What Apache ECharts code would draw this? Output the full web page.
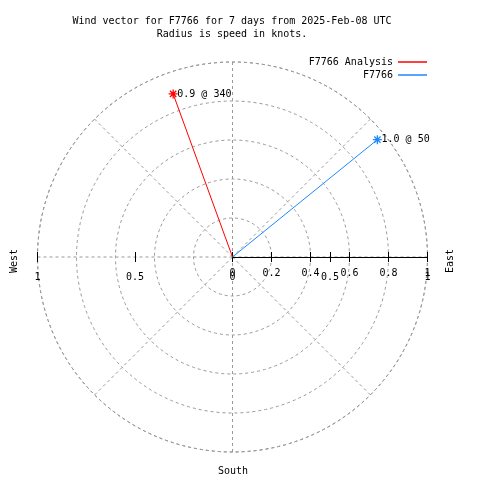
<!DOCTYPE html>
<html><head><meta charset="utf-8">
<script src="https://cdn.jsdelivr.net/npm/echarts@6/dist/echarts.min.js"></script>
<style>html,body{margin:0;padding:0;background:#fff}#c{width:480px;height:480px}</style>
</head><body><div id="c"></div>
<script>
const seriesNames = ['F7766 Analysis', 'F7766'];
const speeds = [0.89, 0.956];
const directions = [340, 51];
const pointLabels = ['0.9 @ 340', '1.0 @ 50'];
const colors = ['#ff0000', '#1e88ff'];
const xTickLabels = ['1', '0.5', '0', '0.5', '1'];
const titleText = 'Wind vector for F7766 for 7 days from 2025-Feb-08 UTC\nRadius is speed in knots.';

const FONT = 'DejaVu Sans Mono';
const CX = 232.5, CY = 257, R = 195;
const dash = { color: '#999999', type: [3, 3], width: 1 };
const star = 'path://M5,0 L5,10 M0,5 L10,5 M1.5,1.5 L8.5,8.5 M8.5,1.5 L1.5,8.5';

const chart = echarts.init(document.getElementById('c'));
const series = seriesNames.map((name, i) => ({
  name: name,
  type: 'line',
  coordinateSystem: 'polar',
  polarIndex: 0,
  color: colors[i],
  lineStyle: { color: colors[i], width: 1 },
  symbol: 'none',
  animation: false,
  data: [
    { value: [0, directions[i]], symbol: 'none' },
    {
      value: [speeds[i], directions[i]],
      symbol: star, symbolSize: 9,
      itemStyle: { color: colors[i], borderColor: colors[i], borderWidth: 1.3 },
      label: { show: true, position: 'right', distance: -1, color: '#000',
        fontFamily: FONT, fontSize: 10, formatter: pointLabels[i] }
    }
  ],
  z: 5
}));

const gridBottom = 480 - CY;
function xAx(gridIndex, min, max, interval, showLabel, inside, showLine, labels) {
  return {
    type: 'value', gridIndex: gridIndex, min: min, max: max, interval: interval,
    position: 'bottom',
    axisLine: { show: showLine, lineStyle: { color: '#000', width: 1 } },
    axisTick: { show: true, inside: inside, length: 5, lineStyle: { color: '#000' } },
    splitLine: { show: false },
    axisLabel: {
      show: showLabel, interval: 0, margin: labels ? 15 : 11, color: '#000',
      fontFamily: FONT, fontSize: 10, showMinLabel: true, showMaxLabel: true,
      formatter: labels ? (v) => labels[Math.round((v - min) / interval)] : undefined
    }
  };
}

chart.setOption({
  backgroundColor: '#fff',
  animation: false,
  title: {
    text: titleText, left: 227, top: 10, textAlign: 'center',
    textStyle: { fontFamily: FONT, fontSize: 10, fontWeight: 'normal', color: '#000', lineHeight: 13 }
  },
  legend: seriesNames.map((n, i) => ({
    data: [n], right: 53, top: 57 + i * 13, align: 'right', orient: 'horizontal',
    icon: 'rect', itemWidth: 29, itemHeight: 1.5, padding: 0,
    textStyle: { fontFamily: FONT, fontSize: 10, color: '#000' },
    selectedMode: false
  })),
  polar: [{ center: [CX, CY], radius: R }],
  angleAxis: {
    polarIndex: 0, type: 'value', min: 0, max: 360, interval: 45,
    startAngle: 90, clockwise: true,
    axisLine: { show: true, lineStyle: dash },
    axisTick: { show: false }, axisLabel: { show: false },
    splitLine: { show: true, lineStyle: dash }
  },
  radiusAxis: {
    polarIndex: 0, type: 'value', min: 0, max: 1, interval: 0.2,
    axisLine: { show: false }, axisTick: { show: false }, axisLabel: { show: false },
    splitLine: { show: true, lineStyle: dash }
  },
  grid: [
    { left: CX - R, width: 2 * R, bottom: gridBottom, height: 100 },
    { left: CX, width: R, bottom: gridBottom, height: 100 }
  ],
  xAxis: [
    xAx(0, -1, 1, 0.5, true, false, false, xTickLabels),
    xAx(0, -1, 1, 0.5, false, true, false, null),
    xAx(1, 0, 1, 0.2, true, false, true, null),
    xAx(1, 0, 1, 0.2, false, true, true, null)
  ],
  yAxis: [
    { gridIndex: 0, show: false, min: 0, max: 1 },
    { gridIndex: 1, show: false, min: 0, max: 1 }
  ],
  graphic: [
    { type: 'text', rotation: Math.PI / 2, x: 9, y: 273,
      style: { text: 'West', fontFamily: FONT, fontSize: 10, fill: '#000' } },
    { type: 'text', rotation: Math.PI / 2, x: 445, y: 273,
      style: { text: 'East', fontFamily: FONT, fontSize: 10, fill: '#000' } },
    { type: 'text', x: 233, y: 471,
      style: { text: 'South', fontFamily: FONT, fontSize: 10, fill: '#000', align: 'center', verticalAlign: 'middle' } }
  ],
  series: series
});
</script></body></html>
